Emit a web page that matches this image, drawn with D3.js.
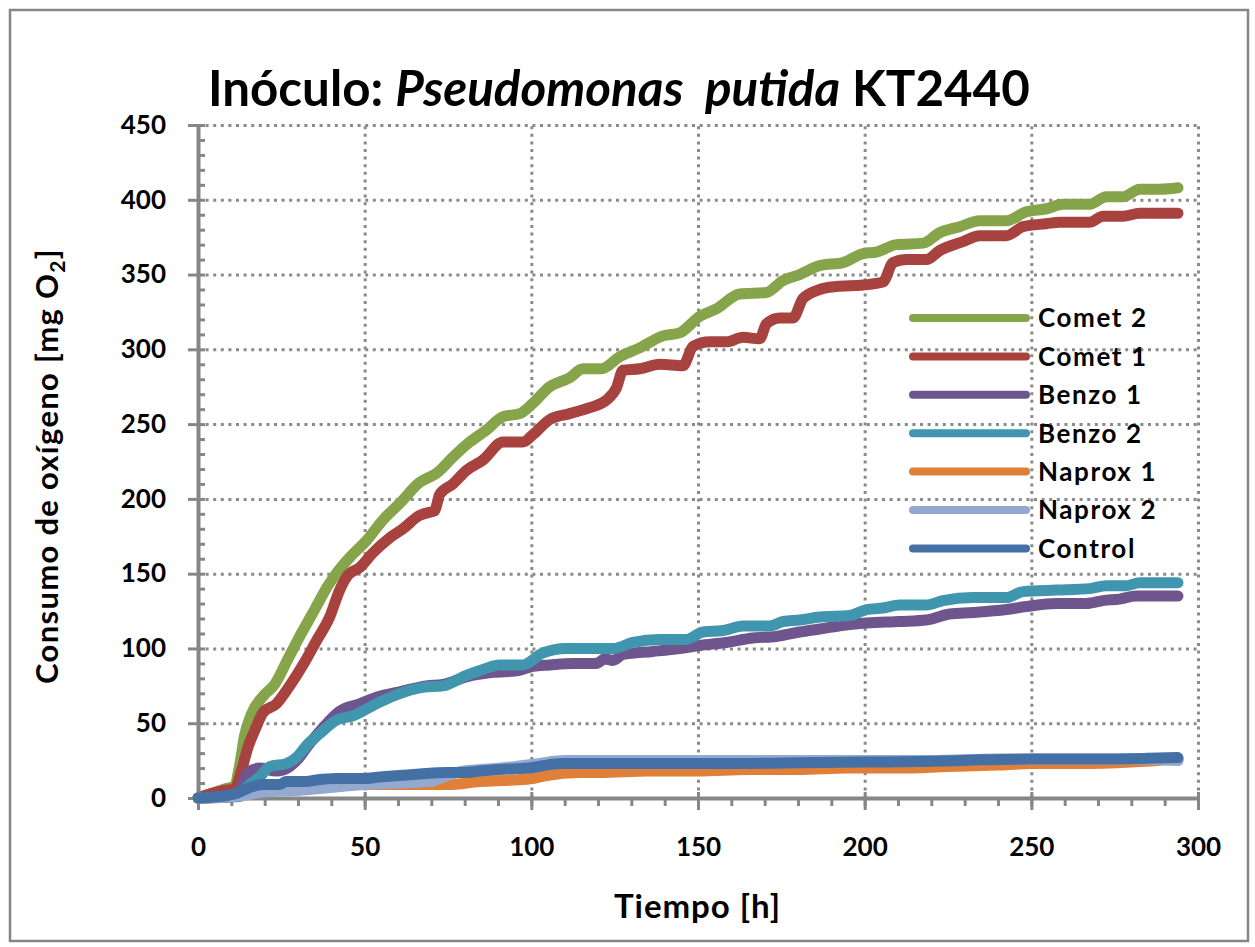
<!DOCTYPE html>
<html>
<head>
<meta charset="utf-8">
<script src="https://cdn.jsdelivr.net/npm/d3@7"></script>
<style>
  html, body { margin: 0; padding: 0; background: #fff; }
  svg { display: block; }
  text { font-family: Lato, "Open Sans", sans-serif; font-weight: 700; fill: #000; }
</style>
</head>
<body>
<svg id="chart" width="1255" height="947"></svg>
<script>
// Oxygen consumption [mg O2] versus time [h], one [hour, value] pair per reading
const comet2 = [[0,0],[4,3],[8,6],[11,8],[12.5,22],[14,42],[16,56],[19.5,68],[23,76],[27,93],[31,110],[35,126],[39,142],[42.5,153],[46,162],[50.5,172],[55.5,186],[60.5,197],[66.5,211],[71.5,217],[76.5,228],[81.5,238],[86.5,246],[91.5,255],[96.5,257],[100.5,264],[105.5,275],[111.5,281],[115.5,287],[121,287],[126.5,295],[132.5,301],[139.5,309],[144.5,311],[150.5,322],[155.5,327],[162.5,337],[170.5,338],[175.5,346],[180.5,350],[186.5,356],[193.5,358],[199.5,364],[203.5,365],[209.5,370],[217.5,371],[222.5,378],[228.5,382],[234.5,386],[242.5,386],[248.5,392],[254.5,394],[259.5,397],[267.5,397],[272.5,402],[277.5,402],[282.5,407],[288.5,407],[294,408]];
const comet1 = [[0,0],[4,3],[8,5],[11,6],[13,18],[15,34],[17,45],[19.5,57],[23.5,63],[27.5,75],[31.5,89],[35.5,105],[39.5,121],[42.5,139],[45,149],[48.5,154],[52.5,164],[57.5,174],[61.5,180],[66.5,189],[69.5,191],[71,192],[72.5,203],[76.5,210],[80.5,219],[85.5,226],[91.5,238],[97.5,238],[100.5,243],[105.5,253],[111.5,257],[117.5,261],[122.5,266],[125.5,274],[127.5,286],[132.5,287],[138.5,290],[145.5,289],[148.5,302],[153.5,305],[158.5,305],[163.5,308],[168.5,307],[170.5,317],[174.5,321],[178.5,321],[181.5,334],[186.5,340],[191.5,342],[199.5,343],[205.5,345],[208.5,358],[212.5,360],[218.5,360],[222.5,366],[229.5,372],[234.5,376],[242.5,376],[247.5,382],[254.5,384],[258.5,385],[267.5,385],[271.5,389],[277.5,389],[282.5,391],[294,391]];
const benzo1 = [[0,0],[10,1],[12.5,5],[15,17],[18.5,20],[23.5,18],[27.5,21],[30,26],[33,35],[37.5,47],[42.5,58],[48.5,63],[54.5,68],[60.5,71],[68.5,75],[73.5,76],[80.5,81],[88.5,84],[95.5,85],[100.5,88],[105.5,89],[112.5,90],[119.5,90],[122,93],[124.5,92],[127.5,96],[136.5,98],[144.5,100],[150.5,102],[158.5,104],[166.5,107],[173.5,108],[180.5,111],[186.5,113],[195.5,116],[200.5,117],[210.5,118],[218.5,119],[225.5,123],[232.5,124],[242.5,126],[248.5,128],[257.5,130],[266.5,130],[271.5,132],[276.5,133],[281.5,135],[294,135]];
const benzo2 = [[0,0],[12.5,1],[14.5,7],[18.5,14],[21.5,21],[26.5,23],[29.5,27],[32.5,35],[36.5,43],[41.5,52],[46.5,55],[53.5,63],[59.5,69],[67.5,74],[73.5,75],[80.5,82],[85.5,86],[90.5,89],[97.5,89],[103.5,97],[110.5,100],[116.5,100],[124.5,100],[130.5,104],[138.5,106],[146.5,106],[151.5,111],[157.5,112],[163.5,115],[171.5,115],[175.5,118],[180.5,119],[186.5,121],[195.5,122],[200.5,126],[205.5,127],[210.5,129],[218.5,129],[223.5,132],[232.5,134],[242.5,134],[247.5,138],[257.5,139],[267.5,140],[272.5,142],[278.5,142],[282.5,144],[294,144]];
const naprox1 = [[0,0],[10,1],[15,4],[20,6],[30,7],[40,8],[50,9],[60,9],[70,9],[75,9],[84.5,11],[94.5,12],[100.5,13],[104.5,15],[114.5,17],[120.5,17],[135,18],[150,18],[165,19],[180,19],[195,20],[210,20],[225,21],[240,22],[250,23],[265,23],[280,24],[294,26]];
const naprox2 = [[0,0],[10,1],[14.5,2],[19.5,4],[29.5,5],[39.5,7],[49.5,9],[59.5,10],[69.5,11],[73.5,14],[79.5,18],[85,19],[95,21],[102,23],[110,25],[120,25],[140,25],[160,25],[180,25],[200,25],[220,25],[240,26],[260,26],[280,26],[294,25]];
const control = [[0,0],[9.5,2],[11.5,3],[15.5,7],[19.5,9],[24.5,9],[26.5,11],[32.5,11],[35.5,12],[41.5,13],[49.5,13],[54.5,14],[60.5,15],[66.5,16],[74.5,17],[79.5,17],[84.5,18],[90.5,19],[99.5,20],[104.5,22],[109.5,23],[120,23],[140,23],[160,23],[180,23.5],[200,24],[220,24.5],[235,25.5],[250,26],[270,26],[285,26.5],[294,27]];

const seriesNames = ["Comet 2", "Comet 1", "Benzo 1", "Benzo 2", "Naprox 1", "Naprox 2", "Control"];
const seriesData = [comet2, comet1, benzo1, benzo2, naprox1, naprox2, control];
const seriesColors = ["#86A44A", "#A8423F", "#6F558E", "#4096AE", "#E08038", "#93A9CF", "#4470A5"];

const xTicks = [0, 50, 100, 150, 200, 250, 300];
const yTicks = [0, 50, 100, 150, 200, 250, 300, 350, 400, 450];

const svg = d3.select("#chart");
const plotLeft = 198, plotRight = 1198, plotTop = 125, plotBottom = 798;

const x = d3.scaleLinear().domain([0, 300]).range([plotLeft, plotRight]);
const y = d3.scaleLinear().domain([0, 450]).range([plotBottom, plotTop]);

const axisGrey = "#868686";

// outer frame
svg.append("rect")
  .attr("x", 10).attr("y", 10).attr("width", 1238).attr("height", 931)
  .attr("fill", "#fff").attr("stroke", axisGrey).attr("stroke-width", 2.5);

// dotted grid
const gridStyle = g => {
  g.select(".domain").remove();
  g.selectAll("line").attr("stroke", "#8a8a8a").attr("stroke-width", 3).attr("stroke-dasharray", "3,4.6");
};
svg.append("g")
  .attr("transform", `translate(0,${plotBottom})`)
  .call(d3.axisBottom(x).tickValues(xTicks.filter(d => d > 0)).tickSize(-(plotBottom - plotTop)).tickFormat(""))
  .call(gridStyle);
svg.append("g")
  .attr("transform", `translate(${plotLeft},0)`)
  .call(d3.axisLeft(y).tickValues(yTicks.filter(d => d > 0)).tickSize(-(plotRight - plotLeft)).tickFormat(""))
  .call(gridStyle);

// axes
const tickStyle = g => g.selectAll("line").attr("stroke", axisGrey).attr("stroke-width", 3);
const minorX = d3.range(0, 301, 10);
const minorY = d3.range(0, 451, 10);

// x axis: minor ticks outward, major ticks crossing the line
svg.append("g").attr("transform", `translate(0,${plotBottom})`)
  .call(d3.axisBottom(x).tickValues(minorX).tickSize(8).tickSizeOuter(0).tickFormat(""))
  .call(g => g.select(".domain").remove()).call(tickStyle);
svg.append("g").attr("transform", `translate(0,${plotBottom})`)
  .call(d3.axisTop(x).tickValues(xTicks).tickSize(6).tickSizeOuter(0).tickFormat(""))
  .call(g => g.select(".domain").remove()).call(tickStyle);
const xAxis = svg.append("g").attr("transform", `translate(0,${plotBottom})`)
  .call(d3.axisBottom(x).tickValues(xTicks).tickSize(12).tickSizeOuter(0).tickPadding(28))
  .call(tickStyle);
xAxis.select(".domain").attr("stroke", axisGrey).attr("stroke-width", 4);
xAxis.selectAll("text").attr("font-size", 26).attr("font-family", "Lato, sans-serif").attr("font-weight", 700).attr("fill", "#000");

// y axis: minor ticks inward, major ticks crossing the line
svg.append("g").attr("transform", `translate(${plotLeft},0)`)
  .call(d3.axisRight(y).tickValues(minorY).tickSize(7).tickSizeOuter(0).tickFormat(""))
  .call(g => g.select(".domain").remove()).call(tickStyle);
const yAxis = svg.append("g").attr("transform", `translate(${plotLeft},0)`)
  .call(d3.axisLeft(y).tickValues(yTicks).tickSize(10).tickSizeOuter(0).tickPadding(22))
  .call(tickStyle);
yAxis.select(".domain").attr("stroke", axisGrey).attr("stroke-width", 4);
yAxis.selectAll("text").attr("font-size", 26).attr("font-family", "Lato, sans-serif").attr("font-weight", 700).attr("fill", "#000");

// series lines, first legend entry drawn first
const line = d3.line()
  .x(d => x(d[0]))
  .y(d => y(d[1]))
  .curve(d3.curveMonotoneX);

svg.append("g").selectAll("path")
  .data(seriesData)
  .join("path")
  .attr("d", line)
  .attr("fill", "none")
  .attr("stroke", (d, i) => seriesColors[i])
  .attr("stroke-width", 11)
  .attr("stroke-linecap", "round")
  .attr("stroke-linejoin", "round");

// legend
const legend = svg.append("g");
const legendRows = legend.selectAll("g")
  .data(seriesNames)
  .join("g")
  .attr("transform", (d, i) => `translate(913,${318 + i * 38.4})`);
legendRows.append("line")
  .attr("x1", 0).attr("x2", 113).attr("y1", 0).attr("y2", 0)
  .attr("stroke", (d, i) => seriesColors[i])
  .attr("stroke-width", 8)
  .attr("stroke-linecap", "round");
legendRows.append("text")
  .attr("x", 125).attr("y", 0)
  .attr("dy", "0.36em")
  .attr("font-size", 26)
  .attr("letter-spacing", 1.6)
  .text(d => d);

// title
const title = svg.append("text")
  .attr("x", 208).attr("y", 106)
  .attr("font-size", 44)
  .attr("xml:space", "preserve");
title.append("tspan").text("Inóculo: ");
title.append("tspan").attr("font-style", "italic").text("Pseudomonas  putida");
title.append("tspan").text(" KT2440");
{
  const w = title.node().getComputedTextLength();
  title.attr("font-size", 44 * 822 / w);
}

// axis titles
svg.append("text")
  .attr("x", 697).attr("y", 918)
  .attr("text-anchor", "middle")
  .attr("font-size", 33)
  .attr("textLength", 166)
  .attr("lengthAdjust", "spacing")
  .text("Tiempo [h]");

const yTitle = svg.append("text")
  .attr("transform", "translate(58,466) rotate(-90)")
  .attr("text-anchor", "middle")
  .attr("font-size", 31)
  .attr("letter-spacing", 1.3);
yTitle.append("tspan").text("Consumo de oxígeno [mg O");
yTitle.append("tspan").attr("font-size", 21).attr("dy", 7).text("2");
yTitle.append("tspan").attr("dy", -7).text("]");
</script>
</body>
</html>
